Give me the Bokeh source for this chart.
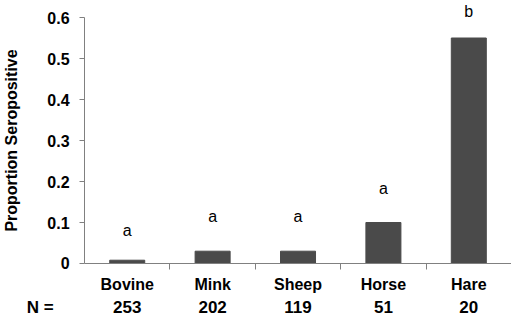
from bokeh.plotting import figure
from bokeh.models import (Range1d, LinearAxis, FixedTicker, ColumnDataSource, LabelSet, Label)
from bokeh.core.properties import value
from bokeh.embed import file_html
from bokeh.resources import INLINE

species = ["Bovine", "Mink", "Sheep", "Horse", "Hare"]
proportion = [0.008, 0.03, 0.03, 0.1, 0.55]
sample_n = ["253", "202", "119", "51", "20"]
letters = ["a", "a", "a", "a", "b"]
letter_y = [0.08, 0.115, 0.115, 0.183, 0.615]
y_ticks = [0, 0.1, 0.2, 0.3, 0.4, 0.5, 0.6]

FONT = "Liberation Sans"
AXIS_GREY = "#808080"

# text rows below the baseline (data units of the y scale)
name_row_y = -0.052
n_row_y = -0.107
n_prefix_x = -0.52

n_cat = len(species)
centres = [i + 0.5 for i in range(n_cat)]
between = [i for i in range(1, n_cat)]

src = ColumnDataSource(dict(x=centres, species=species, proportion=proportion,
                            sample_n=sample_n, letters=letters, letter_y=letter_y))

p = figure(width=511, height=319, x_range=Range1d(-0.984, n_cat), y_range=Range1d(-0.1366, 0.6415),
           output_backend="svg", toolbar_location=None, x_axis_location=None, y_axis_location=None,
           min_border_left=0, min_border_right=0, min_border_top=0, min_border_bottom=0)
p.xgrid.visible = False
p.ygrid.visible = False
p.outline_line_color = None

p.vbar(x="x", top="proportion", width=0.41, source=src,
       fill_color="#4a4a4a", line_color="#4a4a4a")

ya = LinearAxis(fixed_location=0, ticker=FixedTicker(ticks=y_ticks), bounds=(0, 0.6),
                major_label_overrides={0: "0"},
                axis_line_color=AXIS_GREY, major_tick_line_color=AXIS_GREY,
                minor_tick_line_color=None, major_tick_out=5, major_tick_in=0,
                major_label_text_font=FONT, major_label_text_font_style="bold",
                major_label_text_font_size="16px", major_label_text_color="black",
                major_label_standoff=10,
                axis_label="Proportion Seropositive", axis_label_text_font=FONT,
                axis_label_text_font_style="bold", axis_label_text_font_size="16px",
                axis_label_text_color="black", axis_label_standoff=24)
p.add_layout(ya, "left")

xa = LinearAxis(fixed_location=0, ticker=FixedTicker(ticks=between), bounds=(0, n_cat),
                major_label_overrides={b: "" for b in between},
                major_tick_out=6, major_tick_in=0, minor_tick_line_color=None,
                axis_line_color=AXIS_GREY, major_tick_line_color=AXIS_GREY,
                major_label_standoff=0, major_label_text_font_size="1px")
p.add_layout(xa, "below")

p.add_layout(LabelSet(x="x", y="letter_y", text="letters", source=src,
                      text_font=value(FONT), text_font_size="16px", text_align="center",
                      text_baseline="middle", text_color="black"))

p.add_layout(LabelSet(x="x", y=name_row_y, text="species", source=src,
                      text_font=value(FONT), text_font_size="16px", text_font_style="bold",
                      text_align="center", text_baseline="middle", text_color="black"))

p.add_layout(LabelSet(x="x", y=n_row_y, text="sample_n", source=src,
                      text_font=value(FONT), text_font_size="17px", text_font_style="bold",
                      text_align="center", text_baseline="middle", text_color="black"))

p.add_layout(Label(x=n_prefix_x, y=n_row_y, text="N =",
                   text_font=FONT, text_font_size="17px", text_font_style="bold",
                   text_align="center", text_baseline="middle", text_color="black"))

open("out.html", "w").write(file_html(p, INLINE))
